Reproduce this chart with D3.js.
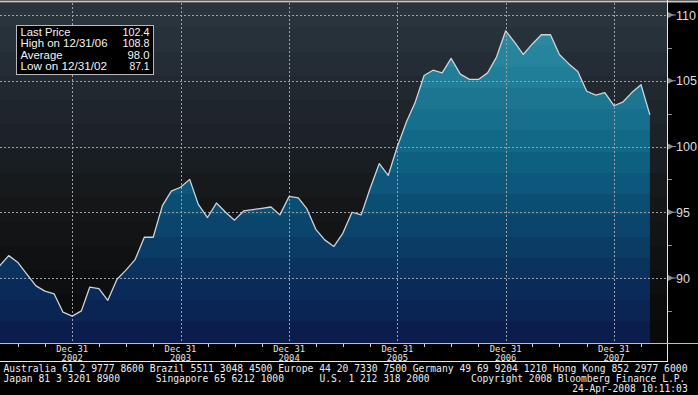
<!DOCTYPE html>
<html><head><meta charset="utf-8">
<script src="https://cdn.jsdelivr.net/npm/d3@7/dist/d3.min.js"></script>
<style>body{margin:0;background:#000;overflow:hidden}svg{display:block}</style>
</head><body>
<script>
// ---- data ----
const firstMonth = {year: 2002, month: 4}; // month-end of April 2002, monthly points
const values = [
  90.9, 91.7, 91.2, 90.3, 89.4, 89.0, 88.8, 87.4, 87.1, 87.5,
  89.3, 89.2, 88.3, 89.9, 90.6, 91.4, 93.1, 93.1, 95.5, 96.6,
  96.9, 97.5, 95.6, 94.6, 95.7, 95.0, 94.4, 95.1, 95.2, 95.3,
  95.4, 94.8, 96.2, 96.1, 95.3, 93.7, 92.9, 92.4, 93.4, 95.0,
  94.8, 96.8, 98.7, 97.8, 100.0, 101.9, 103.3, 105.4, 105.8, 105.6,
  106.7, 105.5, 105.1, 105.1, 105.6, 106.8, 108.8, 107.9, 107.0, 107.8,
  108.5, 108.5, 107.0, 106.3, 105.7, 104.2, 103.9, 104.1, 103.1, 103.4,
  104.1, 104.7, 102.4
];
const yTicks = [90, 95, 100, 105, 110];
const yMinorTicks = [87.5, 92.5, 97.5, 102.5, 107.5];
const xLabelYears = [2002, 2003, 2004, 2005, 2006, 2007];
const xLabelTop = "Dec 31";
const legendLabels = ["Last Price", "High on 12/31/06", "Average", "Low on 12/31/02"];
const legendValues = ["102.4", "108.8", "98.0", "87.1"];
const footerLine1 = "Australia 61 2 9777 8600 Brazil 5511 3048 4500 Europe 44 20 7330 7500 Germany 49 69 9204 1210 Hong Kong 852 2977 6000";
const footerLine2 = ["Japan 81 3 3201 8900", "Singapore 65 6212 1000", "U.S. 1 212 318 2000", "Copyright 2008 Bloomberg Finance L.P."];
const footerLine3 = "24-Apr-2008 10:11:03";

// ---- build ----
const W = 698, H = 395;
const plotTop = 3, plotBottom = 343, plotRight = 667;
const dates = values.map((v, i) => new Date(firstMonth.year, firstMonth.month + i, 0));
const pts = values.map((v, i) => ({date: dates[i], value: v}));

const x = d3.scaleTime()
  .domain([new Date(2002, 11, 31), new Date(2007, 11, 31)])
  .range([72.2, 614]);
const y = d3.scaleLinear().domain([90, 110]).range([278, 15]);

const svg = d3.select("body").append("svg").attr("width", W).attr("height", H);
svg.append("rect").attr("width", W).attr("height", H).attr("fill", "#000");

const defs = svg.append("defs");
function steppedGradient(id, keys, bands) {
  const g = defs.append("linearGradient").attr("id", id)
    .attr("gradientUnits", "userSpaceOnUse")
    .attr("x1", 0).attr("x2", 0).attr("y1", plotTop).attr("y2", plotBottom);
  const interp = d3.piecewise(d3.interpolateRgb, keys);
  for (let b = 0; b < bands; b++) {
    const c = interp(bands === 1 ? 0 : b / (bands - 1));
    g.append("stop").attr("offset", b / bands).attr("stop-color", c);
    g.append("stop").attr("offset", (b + 1) / bands).attr("stop-color", c);
  }
}
steppedGradient("bg", ["#29343d", "#222b32", "#1b2127", "#141719", "#0f1011", "#0a0a0b"], 14);
steppedGradient("ar", ["#2d8ea5", "#26849c", "#1a7491", "#0f6585", "#0b5277", "#0b3e68", "#0a2c5a", "#0a1d4d"], 16);

// plot background
svg.append("rect").attr("x", 0).attr("y", plotTop).attr("width", plotRight).attr("height", plotBottom - plotTop)
  .attr("fill", "url(#bg)");

// area
const area = d3.area().x(d => x(d.date)).y0(plotBottom).y1(d => y(d.value));
svg.append("path").datum(pts).attr("d", area).attr("fill", "url(#ar)");

// grid
const grid = svg.append("g").attr("stroke", "#9aa1a8").attr("stroke-width", 1).attr("stroke-dasharray", "2,2");
grid.selectAll("line.h").data(yTicks).join("line")
  .attr("x1", 0).attr("x2", plotRight)
  .attr("y1", d => Math.round(y(d)) + 0.5).attr("y2", d => Math.round(y(d)) + 0.5);
grid.selectAll("line.v").data(xLabelYears).join("line")
  .attr("x1", d => Math.round(x(new Date(d, 11, 31))) + 0.5)
  .attr("x2", d => Math.round(x(new Date(d, 11, 31))) + 0.5)
  .attr("y1", plotTop).attr("y2", plotBottom);

// line
const line = d3.line().x(d => x(d.date)).y(d => y(d.value));
svg.append("path").datum(pts).attr("d", line).attr("fill", "none")
  .attr("stroke", "#cdd4da").attr("stroke-width", 1.3).attr("stroke-linejoin", "round");

// frame lines
svg.append("line").attr("x1", 0).attr("x2", W).attr("y1", 1.5).attr("y2", 1.5).attr("stroke", "#c8c8c8").attr("stroke-width", 2);
svg.append("line").attr("x1", plotRight + 0.5).attr("x2", plotRight + 0.5).attr("y1", 0).attr("y2", 362).attr("stroke", "#e8e8e8");
svg.append("line").attr("x1", 0).attr("x2", W).attr("y1", plotBottom + 0.5).attr("y2", plotBottom + 0.5).attr("stroke", "#bfbfbf");
svg.append("line").attr("x1", 0).attr("x2", plotRight).attr("y1", 361.5).attr("y2", 361.5).attr("stroke", "#e8e8e8");

// x quarterly ticks (skip Dec, which carries the label)
const qTicks = d3.timeMonth.range(new Date(2002, 3, 1), new Date(2008, 6, 1), 3)
  .map(d => new Date(d.getFullYear(), d.getMonth() + 3, 0))
  .filter(d => d.getMonth() !== 11 && x(d) > 2 && x(d) < plotRight - 2);
svg.append("g").selectAll("line").data(qTicks).join("line")
  .attr("x1", d => Math.round(x(d)) + 0.5).attr("x2", d => Math.round(x(d)) + 0.5)
  .attr("y1", plotBottom + 1).attr("y2", plotBottom + 4).attr("stroke", "#d0d0d0");

// x labels: two-line label as one text
const xl = svg.append("g").attr("font-family", "DejaVu Sans Mono, monospace").attr("font-size", 8.8)
  .attr("fill", "#e6e6e6").attr("text-anchor", "middle");
const xt = xl.selectAll("text").data(xLabelYears).join("text")
  .attr("x", d => x(new Date(d, 11, 31))).attr("y", 352);
xt.append("tspan").attr("x", d => x(new Date(d, 11, 31))).text(xLabelTop);
xt.append("tspan").attr("x", d => x(new Date(d, 11, 31))).attr("dy", 8.6).text(d => d);

// right axis
const ra = svg.append("g");
ra.selectAll("path").data(yTicks).join("path")
  .attr("d", d => { const yy = y(d); return `M${plotRight+1},${yy-3}L${plotRight+7},${yy}L${plotRight+1},${yy+3}Z`; })
  .attr("fill", "#8c8c8c");
ra.selectAll("line.t").data(yTicks).join("line")
  .attr("x1", plotRight + 1).attr("x2", plotRight + 9)
  .attr("y1", d => y(d)).attr("y2", d => y(d)).attr("stroke", "#8c8c8c");
ra.selectAll("line.m").data(yMinorTicks).join("line")
  .attr("x1", plotRight + 1).attr("x2", plotRight + 5)
  .attr("y1", d => Math.round(y(d)) + 0.5).attr("y2", d => Math.round(y(d)) + 0.5).attr("stroke", "#8c8c8c");
ra.selectAll("text").data(yTicks).join("text")
  .attr("x", plotRight + 9).attr("y", d => y(d) + 4.5)
  .attr("font-family", "Liberation Sans, Arial, sans-serif").attr("font-size", 12.5)
  .attr("fill", "#dcdcdc").text(d => d);

// legend
const lg = svg.append("g").attr("font-family", "Liberation Sans, Arial, sans-serif").attr("font-size", 10.2).attr("fill", "#f4f4f4");
lg.append("rect").attr("x", 16.5).attr("y", 25.5).attr("width", 137).attr("height", 49)
  .attr("fill", "#000").attr("stroke", "#b8b8b8");
const labelW = [50, 87, 42, 86.5], valueW = [27, 27, 22, 20];
const rowY = i => 36 + i * 11.4;
lg.selectAll("text.l").data(legendLabels).join("text")
  .attr("x", 20.5).attr("y", (d, i) => rowY(i))
  .attr("textLength", (d, i) => labelW[i]).attr("lengthAdjust", "spacingAndGlyphs").text(d => d);
lg.selectAll("text.v").data(legendValues).join("text")
  .attr("x", (d, i) => 149.5 - valueW[i]).attr("y", (d, i) => rowY(i))
  .attr("textLength", (d, i) => valueW[i]).attr("lengthAdjust", "spacingAndGlyphs").text(d => d);

// footer
const ft = svg.append("g").attr("font-family", "DejaVu Sans Mono, monospace").attr("font-size", 9.6).attr("fill", "#ececec");
ft.append("text").attr("x", 3.5).attr("y", 371.5).attr("textLength", 684).attr("lengthAdjust", "spacingAndGlyphs").text(footerLine1);
const f2x = [3.5, 155.8, 319.5, 470.9], f2w = [116.5, 128.2, 110, 214.5];
ft.selectAll("text.f2").data(footerLine2).join("text")
  .attr("x", (d, i) => f2x[i]).attr("y", 381.5)
  .attr("textLength", (d, i) => f2w[i]).attr("lengthAdjust", "spacingAndGlyphs").text(d => d);
ft.append("text").attr("x", 687.7).attr("y", 391.5).attr("text-anchor", "end").text(footerLine3);
</script>
</body></html>
